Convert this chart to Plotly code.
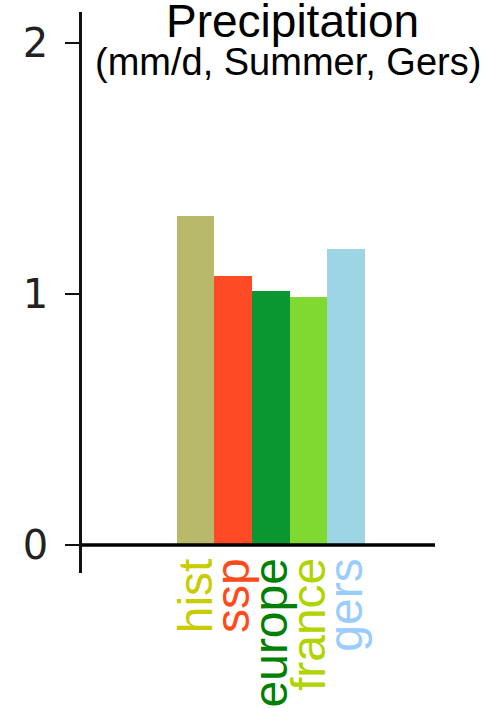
import plotly.graph_objects as go

# Summer precipitation in the Gers (mm/d) by dataset
categories = ["hist", "ssp", "europe", "france", "gers"]
values = [1.31, 1.07, 1.01, 0.99, 1.18]
bar_colors = ["#b8b96a", "#ff4a26", "#0a9630", "#80d930", "#9dd5e5"]
label_colors = ["#c8cc00", "#ff4a1a", "#008000", "#b0d400", "#99ccff"]
y_ticks = [0, 1, 2]
y_tick_labels = ["0", "1", "2"]

x_pos = list(range(len(categories)))

W, H = 486, 709
L, R, T, B = 82, 51, 12, 136
pw = W - L - R
ph = H - T - B

fig = go.Figure()
fig.add_trace(go.Bar(
    x=x_pos,
    y=values,
    width=1.0,
    marker=dict(color=bar_colors, line=dict(width=0)),
    hoverinfo="skip",
))

# category names, rotated and coloured like their bars
for xi, name, col in zip(x_pos, categories, label_colors):
    fig.add_annotation(
        x=xi, xref="x",
        y=-0.045, yref="y",
        text=name,
        textangle=-90,
        showarrow=False,
        xanchor="center", yanchor="top",
        font=dict(family="Liberation Sans", size=48, color=col),
    )

# two-line title
fig.add_annotation(
    x=(292 - L) / pw, xref="paper",
    y=1 - (21 - T) / ph, yref="paper",
    text="Precipitation", showarrow=False,
    xanchor="center", yanchor="middle",
    font=dict(family="Liberation Sans", size=46, color="black"),
)
fig.add_annotation(
    x=(288 - L) / pw, xref="paper",
    y=1 - (62 - T) / ph, yref="paper",
    text="(mm/d, Summer, Gers)", showarrow=False,
    xanchor="center", yanchor="middle",
    font=dict(family="Liberation Sans", size=38, color="black"),
)

fig.update_layout(
    width=W, height=H,
    margin=dict(l=L, r=R, t=T, b=B, pad=0),
    paper_bgcolor="white",
    plot_bgcolor="white",
    showlegend=False,
    bargap=0,
    xaxis=dict(
        range=[-3.02, 6.37],
        showline=False, showgrid=False, zeroline=False,
        showticklabels=False, ticks="",
    ),
    yaxis=dict(
        range=[-0.1116, 2.1235],
        tickvals=y_ticks, ticktext=y_tick_labels,
        showline=True, linecolor="#111", linewidth=2.5,
        ticks="outside", ticklen=14, tickwidth=2, tickcolor="#111",
        ticklabelstandoff=9,
        showgrid=False, zeroline=False,
        tickfont=dict(family="DejaVu Sans", size=40, color="#222"),
    ),
)

# heavy baseline at zero
fig.add_shape(
    type="line", xref="paper", yref="y",
    x0=0, x1=1, y0=0, y1=0,
    line=dict(color="black", width=3.5),
)

fig.write_html("out.html")
